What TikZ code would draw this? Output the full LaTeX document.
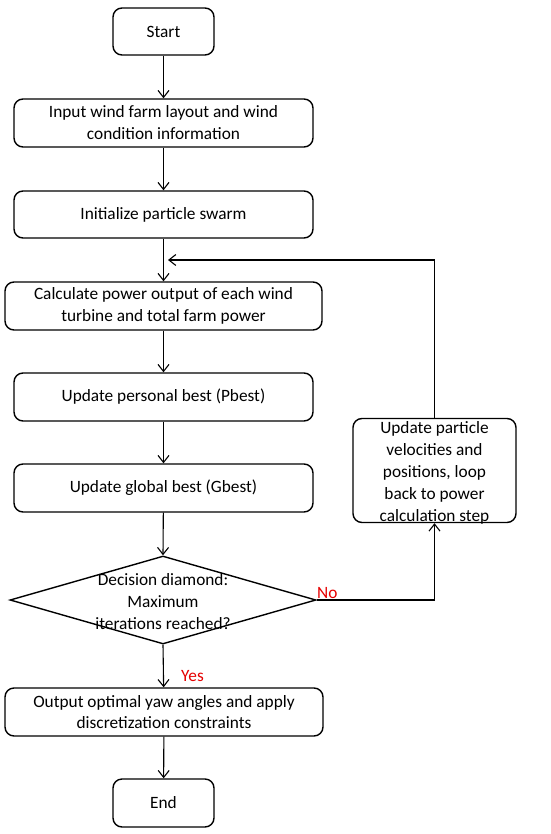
\documentclass[tikz,border=0pt]{standalone}
\usepackage{fontspec}
\setmainfont{Carlito}
\usetikzlibrary{shapes.geometric,arrows.meta}
\definecolor{labred}{RGB}{230,0,0}
\begin{document}
\begin{tikzpicture}[x=1pt,y=-1pt,
  txt/.style={font=\fontsize{17.3}{21.9}\selectfont},
  box/.style={draw, rounded corners=9pt, line width=1.4pt, align=center, inner sep=0pt, txt},
  arr/.style={draw, line width=1.1pt, -{Straight Barb[length=7pt,width=11pt]}},
  lab/.style={text=labred, txt}]
\useasboundingbox[fill=white] (0,0) rectangle (550,834);
\node[box, minimum width=101pt, minimum height=47pt] (start) at (163.5,31.5) {Start};
\node[box, minimum width=299pt, minimum height=48pt] (input) at (163.5,123) {Input wind farm layout and wind\\condition information};
\node[box, minimum width=299pt, minimum height=47pt] (init) at (163.5,214.5) {Initialize particle swarm};
\node[box, minimum width=317pt, minimum height=48pt] (calc) at (163.5,306) {Calculate power output of each wind\\turbine and total farm power};
\node[box, minimum width=299pt, minimum height=48pt] (pbest) at (163.5,397) {Update personal best (Pbest)};
\node[box, minimum width=299pt, minimum height=48pt] (gbest) at (163.5,488) {Update global best (Gbest)};
\node[draw, diamond, line width=1.4pt, minimum width=306pt, minimum height=88pt, inner sep=0pt] (dec) at (163,600) {};
\node[txt, align=center, inner sep=0pt] (dectxt) at ([yshift=-1.5pt]dec.center) {Decision diamond:\\Maximum\\iterations reached?};
\node[box, minimum width=318pt, minimum height=48pt] (out) at (164,712) {Output optimal yaw angles and apply\\discretization constraints};
\node[box, minimum width=101pt, minimum height=48pt] (end) at (163.5,803) {End};
\node[box, minimum width=163pt, minimum height=104pt] (upd) at (434.5,470.5) {};
\node[txt, align=center, inner sep=0pt] (updtxt) at ([yshift=-2.5pt]upd.center) {Update particle\\velocities and\\positions, loop\\back to power\\calculation step};
\coordinate (lp) at (168,260);
\draw[arr] (start) -- (input);
\draw[arr] (input) -- (init);
\draw[arr] (init) -- (calc);
\draw[arr] (calc) -- (pbest);
\draw[arr] (pbest) -- (gbest);
\draw[arr] (gbest) -- (dec.north);
\draw[arr] (dec.south) -- (out);
\draw[arr] (out) -- (end);
\draw[arr] (dec.east) -| (upd.south);
\draw[arr] (upd.north) |- (lp);
\node[lab, anchor=south west, inner sep=0pt] (no) at (317,599) {No};
\node[lab, anchor=south west, inner sep=0pt] (yes) at (181,682) {Yes};
\end{tikzpicture}
\end{document}
